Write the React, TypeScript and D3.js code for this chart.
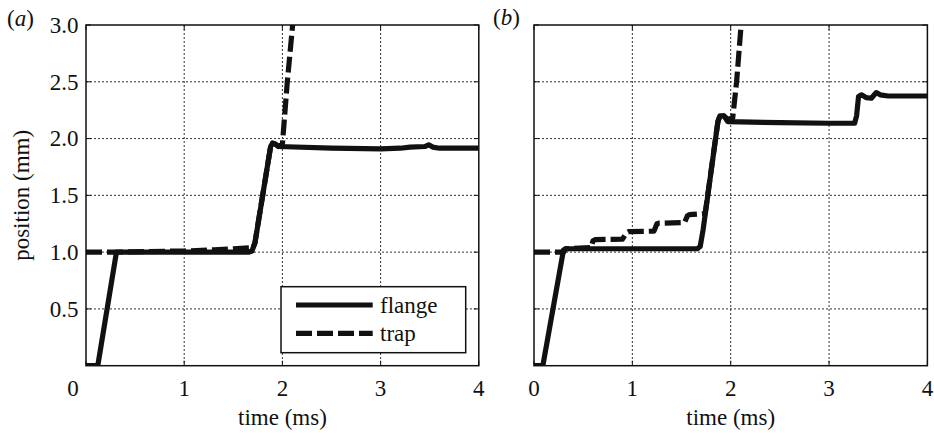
import * as React from "react";
import * as d3 from "d3";

// time (ms), position (mm)
const flangeA: [number, number][] = [
  [0, 0], [0.12, 0], [0.31, 1.0], [1.0, 1.0], [1.66, 1.0], [1.69, 1.01], [1.72, 1.08],
  [1.88, 1.93], [1.9, 1.96], [1.93, 1.95], [1.96, 1.93], [2.5, 1.915], [3.0, 1.91],
  [3.2, 1.915], [3.3, 1.925], [3.45, 1.93], [3.49, 1.945], [3.53, 1.925], [3.6, 1.915], [4.0, 1.915]
];
const trapA: [number, number][] = [
  [0, 1.0], [0.31, 1.0], [0.6, 1.005], [1.0, 1.01], [1.3, 1.02], [1.5, 1.03], [1.7, 1.04],
  [1.72, 1.08], [1.88, 1.93], [1.9, 1.96], [1.93, 1.95], [1.96, 1.93], [2.0, 1.95],
  [2.05, 2.5], [2.115, 3.1]
];
const flangeB: [number, number][] = [
  [0, 0], [0.09, 0], [0.3, 1.02], [0.33, 1.03], [1.0, 1.03], [1.66, 1.03], [1.69, 1.05],
  [1.72, 1.2], [1.87, 2.15], [1.89, 2.2], [1.93, 2.2], [1.97, 2.15], [2.5, 2.14], [3.0, 2.135],
  [3.26, 2.135], [3.28, 2.2], [3.3, 2.37], [3.33, 2.385], [3.38, 2.36], [3.43, 2.355],
  [3.48, 2.405], [3.52, 2.385], [3.6, 2.375], [4.0, 2.375]
];
const trapB: [number, number][] = [
  [0, 1.0], [0.3, 1.0], [0.32, 1.03], [0.58, 1.04], [0.6, 1.1], [0.62, 1.11], [0.9, 1.115],
  [0.94, 1.17], [0.96, 1.18], [1.22, 1.185], [1.25, 1.25], [1.27, 1.255], [1.53, 1.26],
  [1.56, 1.32], [1.58, 1.33], [1.74, 1.34], [1.87, 2.15], [1.89, 2.2], [1.93, 2.2],
  [1.97, 2.17], [2.02, 2.18], [2.06, 2.5], [2.115, 3.1]
];

const xTicks = [0, 1, 2, 3, 4];
const yTicks = [0.5, 1.0, 1.5, 2.0, 2.5, 3.0];
const seriesNames = ["flange", "trap"];
const panelNames = ["a", "b"];

const FONT = "Liberation Serif";
const INK = "#111";

class App extends React.Component {
  _rootNode: SVGSVGElement | null = null;

  componentDidMount() {
    this.drawChart();
  }

  drawChart() {
    const svg = d3.select(this._rootNode);
    svg.selectAll("*").remove();

    const options = {
      top: 25,
      bottom: 365.7,
      panels: [
        { left: 86, right: 478.8, flange: flangeA, trap: trapA },
        { left: 534, right: 927.4, flange: flangeB, trap: trapB }
      ],
      lineWidth: 5.2,
      dash: "16,5",
      fontSize: 23
    };

    const yScale = d3.scaleLinear().domain([0, 3]).range([options.bottom, options.top]);

    options.panels.forEach((p, pi) => {
      const xScale = d3.scaleLinear().domain([0, 4]).range([p.left, p.right]);
      const g = svg.append("g").attr("font-family", FONT).attr("font-size", options.fontSize);

      // dotted grid
      g.selectAll("line.gx").data(xTicks.slice(1, -1)).enter().append("line")
        .attr("x1", d => xScale(d)).attr("x2", d => xScale(d))
        .attr("y1", options.top).attr("y2", options.bottom)
        .attr("stroke", "#333").attr("stroke-width", 1).attr("stroke-dasharray", "2,2");
      g.selectAll("line.gy").data(yTicks.slice(0, -1)).enter().append("line")
        .attr("y1", d => yScale(d)).attr("y2", d => yScale(d))
        .attr("x1", p.left).attr("x2", p.right)
        .attr("stroke", "#333").attr("stroke-width", 1).attr("stroke-dasharray", "2,2");

      // inner tick marks
      const tl = 5;
      xTicks.forEach(t => {
        g.append("line").attr("x1", xScale(t)).attr("x2", xScale(t))
          .attr("y1", options.bottom).attr("y2", options.bottom - tl).attr("stroke", INK);
        g.append("line").attr("x1", xScale(t)).attr("x2", xScale(t))
          .attr("y1", options.top).attr("y2", options.top + tl).attr("stroke", INK);
      });
      yTicks.forEach(t => {
        g.append("line").attr("x1", p.left).attr("x2", p.left + tl)
          .attr("y1", yScale(t)).attr("y2", yScale(t)).attr("stroke", INK);
        g.append("line").attr("x1", p.right).attr("x2", p.right - tl)
          .attr("y1", yScale(t)).attr("y2", yScale(t)).attr("stroke", INK);
      });

      // clip for curves
      const clipId = "clip" + pi;
      svg.append("clipPath").attr("id", clipId).append("rect")
        .attr("x", p.left).attr("y", options.top)
        .attr("width", p.right - p.left).attr("height", options.bottom - options.top);

      const line = d3.line<[number, number]>()
        .x(d => xScale(d[0]))
        .y(d => yScale(d[1]));

      const curves = g.append("g").attr("clip-path", `url(#${clipId})`);
      curves.append("path").attr("d", line(p.trap)).attr("fill", "none")
        .attr("stroke", INK).attr("stroke-width", options.lineWidth)
        .attr("stroke-dasharray", options.dash).attr("stroke-linejoin", "round");
      curves.append("path").attr("d", line(p.flange)).attr("fill", "none")
        .attr("stroke", INK).attr("stroke-width", options.lineWidth)
        .attr("stroke-linejoin", "round");

      // box
      g.append("rect").attr("x", p.left).attr("y", options.top)
        .attr("width", p.right - p.left).attr("height", options.bottom - options.top)
        .attr("fill", "none").attr("stroke", INK).attr("stroke-width", 1.5);

      // x tick labels
      g.selectAll("text.xt").data(xTicks).enter().append("text")
        .attr("x", d => xScale(d) - (pi === 0 && d === 0 ? 13 : 0))
        .attr("y", 396)
        .attr("text-anchor", "middle")
        .attr("fill", INK)
        .text(d => String(d));

      // x axis label
      g.append("text").attr("x", (p.left + p.right) / 2).attr("y", 425)
        .attr("text-anchor", "middle")
        .attr("fill", INK).text("time (ms)");

      // panel label
      const lab = g.append("text").attr("x", pi === 0 ? 7 : 493).attr("y", pi === 0 ? 26 : 25)
        .attr("fill", INK);
      lab.append("tspan").text("(");
      lab.append("tspan").attr("font-style", "italic").text(panelNames[pi]);
      lab.append("tspan").text(")");

      if (pi === 0) {
        g.selectAll("text.yt").data(yTicks).enter().append("text")
          .attr("x", 78.5).attr("y", d => yScale(d))
          .attr("dy", "0.34em")
          .attr("text-anchor", "end")
          .attr("fill", INK)
          .text(d => d.toFixed(1));

        g.append("text")
          .attr("transform", `translate(29,${(options.top + options.bottom) / 2}) rotate(-90)`)
          .attr("text-anchor", "middle")
          .attr("fill", INK).text("position (mm)");

        // legend
        const legend = g.append("g");
        legend.append("rect").attr("x", 281).attr("y", 286.7).attr("width", 184.7).attr("height", 66)
          .attr("fill", "white").attr("stroke", INK).attr("stroke-width", 1.5);
        seriesNames.forEach((name, i) => {
          const y = 305 + i * 28.3;
          legend.append("line").attr("x1", 296).attr("x2", 372.7).attr("y1", y).attr("y2", y)
            .attr("stroke", INK).attr("stroke-width", options.lineWidth)
            .attr("stroke-dasharray", i === 1 ? options.dash : null);
          legend.append("text").attr("x", 380).attr("y", y + 8)
            .attr("fill", INK).text(name);
        });
      }
    });
  }

  shouldComponentUpdate() {
    return false;
  }

  _setRef(node: SVGSVGElement | null) {
    this._rootNode = node;
  }

  render() {
    return (
      <svg
        ref={this._setRef.bind(this)}
        width={934}
        height={433}
        style={{ position: "absolute", left: 0, top: 0, background: "white" }}
      />
    );
  }
}

export default App;
